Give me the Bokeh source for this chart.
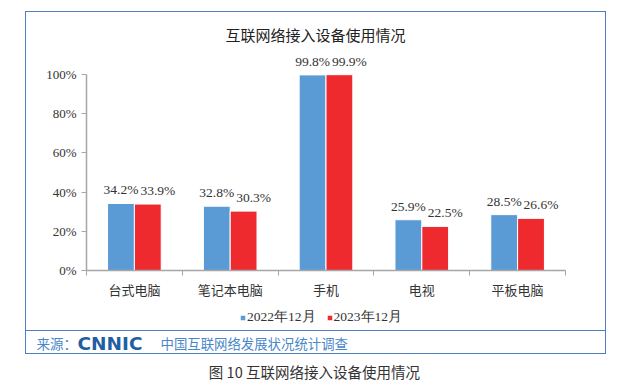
from bokeh.plotting import figure
from bokeh.layouts import column
from bokeh.models import (ColumnDataSource, FixedTicker, NumeralTickFormatter, Label,
                          LabelSet, Range1d, Legend, LegendItem)
from bokeh.core.properties import value
from bokeh.embed import file_html
from bokeh.resources import INLINE

# ---- data ----
categories = ["台式电脑", "笔记本电脑", "手机", "电视", "平板电脑"]
series_names = ["2022年12月", "2023年12月"]
values_2022 = [0.342, 0.328, 0.998, 0.259, 0.285]
values_2023 = [0.339, 0.303, 0.999, 0.225, 0.266]
y_ticks = [0.0, 0.2, 0.4, 0.6, 0.8, 1.0]
chart_title = "互联网络接入设备使用情况"
source_prefix = "来源："
source_logo = "CNNIC"
source_text = "中国互联网络发展状况统计调查"
caption = "图 10  互联网络接入设备使用情况"

BLUE = "#5B9BD5"
RED = "#EE2A2E"
FRAME_BLUE = "#4F7FC0"
SRC_BLUE = "#4A87C8"
AXIS_GRAY = "#A6A6A6"
TEXT = "#333333"
CJK = "Noto Sans CJK SC"
SERIF = "Liberation Serif"

n = len(categories)
centers = [i + 0.5 for i in range(n)]
off = 0.14
bw = 0.28

src = ColumnDataSource(dict(
    x1=[c - off for c in centers], x2=[c + off for c in centers],
    v1=values_2022, v2=values_2023,
    t1=[f"{v*100:.1f}%" for v in values_2022],
    t2=[f"{v*100:.1f}%" for v in values_2023],
))


def bare(fig):
    fig.title.visible = False
    fig.outline_line_color = None
    fig.grid.visible = False
    fig.frame_align = False
    return fig


# ---------------- main chart (inside the framed box) ----------------
p = figure(width=579, height=292, x_range=Range1d(0, n), y_range=Range1d(0, 1.2551),
           output_backend="svg", toolbar_location=None,
           min_border_left=60, min_border_right=40, min_border_top=12, min_border_bottom=34)
bare(p)

r1 = p.vbar(x="x1", top="v1", width=bw, source=src, fill_color=BLUE, line_color="white", line_width=1)
r2 = p.vbar(x="x2", top="v2", width=bw, source=src, fill_color=RED, line_color="white", line_width=1)

p.add_layout(LabelSet(x="x1", y="v1", text="t1", source=src, y_offset=6,
                      text_align="center", text_baseline="bottom",
                      text_font=value(SERIF), text_font_size="13.5px", text_color=TEXT))
p.add_layout(LabelSet(x="x2", y="v2", text="t2", source=src, y_offset=6, x_offset=10,
                      text_align="center", text_baseline="bottom",
                      text_font=value(SERIF), text_font_size="13.5px", text_color=TEXT))

xa = p.xaxis[0]
xa.ticker = FixedTicker(ticks=centers, minor_ticks=list(range(n + 1)))
xa.major_label_overrides = {c: lab for c, lab in zip(centers, categories)}
xa.major_tick_line_color = None
xa.major_tick_out = 0
xa.major_tick_in = 0
xa.minor_tick_line_color = AXIS_GRAY
xa.minor_tick_in = 0
xa.minor_tick_out = 5
xa.axis_line_color = AXIS_GRAY
xa.axis_line_width = 1.5
xa.major_label_text_font = CJK
xa.major_label_text_font_size = "13px"
xa.major_label_text_color = TEXT
xa.major_label_standoff = 4
xa.bounds = (0, n)

ya = p.yaxis[0]
ya.ticker = FixedTicker(ticks=y_ticks, minor_ticks=[])
ya.formatter = NumeralTickFormatter(format="0%")
ya.bounds = (0, 1)
ya.axis_line_color = AXIS_GRAY
ya.axis_line_width = 1.5
ya.major_tick_line_color = AXIS_GRAY
ya.major_tick_in = 0
ya.major_tick_out = 5
ya.minor_tick_line_color = None
ya.major_label_text_font = SERIF
ya.major_label_text_font_size = "13px"
ya.major_label_text_color = TEXT
ya.major_label_standoff = 5

p.add_layout(Label(x=229, y=236, x_units="screen", y_units="screen", text=chart_title,
                   text_align="center", text_baseline="middle", text_font=CJK,
                   text_font_size="15px", text_color="#222222"))

# ---------------- legend strip (its bars lie outside the strip's y range) ----------------
lg = figure(width=579, height=26, x_range=Range1d(0, n), y_range=Range1d(2, 3),
            output_backend="svg", toolbar_location=None, min_border=0,
            x_axis_location=None, y_axis_location=None)
bare(lg)
k1 = lg.vbar(x="x1", top="v1", width=bw, source=src, fill_color=BLUE, line_color="white", line_width=1)
k2 = lg.vbar(x="x2", top="v2", width=bw, source=src, fill_color=RED, line_color="white", line_width=1)
legend = Legend(items=[LegendItem(label=series_names[0], renderers=[k1], index=0),
                       LegendItem(label=series_names[1], renderers=[k2], index=0)],
                orientation="horizontal", location=(213, 4),
                glyph_width=7, glyph_height=7, label_standoff=1, spacing=10,
                padding=0, margin=0, border_line_color=None, background_fill_alpha=0,
                label_text_font=SERIF, label_text_font_size="13.5px",
                label_text_color=TEXT)
lg.add_layout(legend)

# ---------------- source line (bottom strip of the box) ----------------
s = figure(width=579, height=23, x_range=Range1d(0, 1), y_range=Range1d(0, 1),
           output_backend="svg", toolbar_location=None, min_border=0,
           x_axis_location=None, y_axis_location=None,
           styles={"border-top": "1px solid " + FRAME_BLUE})
bare(s)
s.add_layout(Label(x=10, y=11.5, x_units="screen", y_units="screen", text=source_prefix,
                   text_align="left", text_baseline="middle", text_font=CJK,
                   text_font_size="13.5px", text_color=SRC_BLUE))
s.add_layout(Label(x=51, y=11.5, x_units="screen", y_units="screen", text=source_logo,
                   text_align="left", text_baseline="middle", text_font="DejaVu Sans",
                   text_font_style="bold", text_font_size="18.5px", text_color="#1F5FA3"))
s.add_layout(Label(x=134, y=11.5, x_units="screen", y_units="screen", text=source_text,
                   text_align="left", text_baseline="middle", text_font=CJK,
                   text_font_size="13.4px", text_color=SRC_BLUE))

box = column(p, lg, s, styles={"border": "1.5px solid " + FRAME_BLUE}, margin=(11, 0, 0, 25))

# ---------------- caption below the box ----------------
c = figure(width=632, height=30, x_range=Range1d(0, 1), y_range=Range1d(0, 1),
           output_backend="svg", toolbar_location=None, min_border=0,
           x_axis_location=None, y_axis_location=None)
bare(c)
c.add_layout(Label(x=315.5, y=13, x_units="screen", y_units="screen", text=caption,
                   text_align="center", text_baseline="middle", text_font=CJK,
                   text_font_size="14.5px", text_color=TEXT))

root = column(box, c)
open("out.html", "w").write(file_html(root, INLINE))
